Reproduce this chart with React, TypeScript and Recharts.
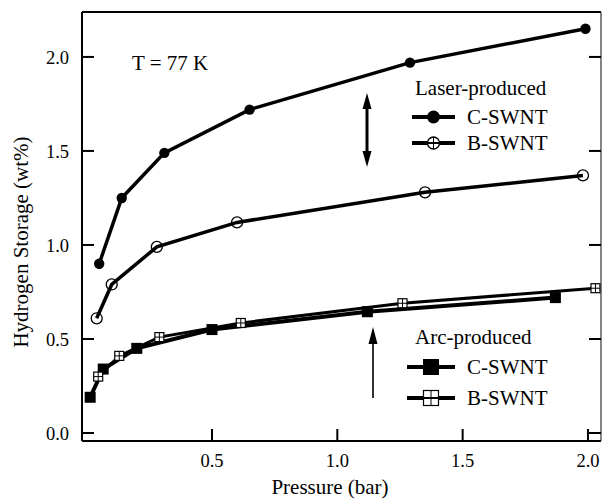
import React from 'react';
import { LineChart, Line, XAxis, YAxis } from 'recharts';

// pressure (bar) vs hydrogen storage (wt%)
const laserC = [
  { x: 0.05, y: 0.9 }, { x: 0.14, y: 1.25 }, { x: 0.31, y: 1.49 },
  { x: 0.65, y: 1.72 }, { x: 1.29, y: 1.97 }, { x: 1.99, y: 2.15 },
];
const laserB = [
  { x: 0.04, y: 0.61 }, { x: 0.1, y: 0.79 }, { x: 0.28, y: 0.99 },
  { x: 0.6, y: 1.12 }, { x: 1.35, y: 1.28 }, { x: 1.98, y: 1.37 },
];
const arcC = [
  { x: 0.014, y: 0.19 }, { x: 0.066, y: 0.34 }, { x: 0.2, y: 0.45 },
  { x: 0.5, y: 0.55 }, { x: 1.12, y: 0.645 }, { x: 1.87, y: 0.72 },
];
const arcB = [
  { x: 0.046, y: 0.3 }, { x: 0.13, y: 0.41 }, { x: 0.29, y: 0.51 },
  { x: 0.615, y: 0.585 }, { x: 1.26, y: 0.69 }, { x: 2.03, y: 0.77 },
];
const xTicks = [0.5, 1.0, 1.5, 2.0];
const yTicks = [0, 0.5, 1.0, 1.5, 2.0];
const xDomain = [-0.0186, 2.052];
const yDomain = [-0.0426, 2.239];

const FONT = '"Liberation Serif", "Times New Roman", serif';
const tickStyle = { fill: '#000', fontSize: 18.5, fontFamily: FONT };
const noLabel = () => <g />;

const filledCircle = (cx: number, cy: number, r: number, key?: any) => (
  <circle key={key} cx={cx} cy={cy} r={r} fill="#000" />
);
const openCircle = (cx: number, cy: number, r: number, key?: any) => (
  <g key={key}>
    <circle cx={cx} cy={cy} r={r} fill="none" stroke="#000" strokeWidth={1.3} />
  </g>
);
const filledSquare = (cx: number, cy: number, s: number, key?: any) => (
  <rect key={key} x={cx - s / 2} y={cy - s / 2} width={s} height={s} fill="#000" />
);
const openSquare = (cx: number, cy: number, s: number, key?: any) => (
  <g key={key}>
    <rect x={cx - s / 2} y={cy - s / 2} width={s} height={s} fill="#fff" stroke="#000" strokeWidth={1.2} />
    <line x1={cx} x2={cx} y1={cy - s / 2} y2={cy + s / 2} stroke="#000" strokeWidth={1} />
    <line x1={cx - s / 2} x2={cx + s / 2} y1={cy} y2={cy} stroke="#000" strokeWidth={1} />
  </g>
);

function LegendRow({ x1, x2, y, text, marker }: any) {
  const mx = (x1 + x2) / 2;
  return (
    <g>
      <line x1={x1} x2={x2} y1={y} y2={y} stroke="#000" strokeWidth={4} />
      {marker(mx, y)}
      <text x={467} y={y + 7} fontSize={21} fontFamily={FONT}>{text}</text>
    </g>
  );
}

function Overlay() {
  return (
    <svg width={605} height={499} style={{ position: 'absolute', left: 0, top: 0, pointerEvents: 'none' }}>
      <text x={28} y={242} transform="rotate(-90 28 242)" textAnchor="middle" fontSize={21} fontFamily={FONT}>
        Hydrogen Storage (wt%)
      </text>
      <text x={330} y={494} textAnchor="middle" fontSize={21} fontFamily={FONT}>Pressure (bar)</text>
      <text x={132} y={70} fontSize={21} fontFamily={FONT}>T = 77 K</text>

      <text x={415} y={95} fontSize={21} fontFamily={FONT}>Laser-produced</text>
      <LegendRow x1={412} x2={455} y={117} text="C-SWNT" marker={(x: number, y: number) => filledCircle(x, y, 6.5)} />
      <LegendRow x1={412} x2={455} y={143} text="B-SWNT" marker={(x: number, y: number) => (
        <g>
          <circle cx={x} cy={y} r={6} fill="#fff" stroke="#000" strokeWidth={1.3} />
          <line x1={x - 6} x2={x + 6} y1={y} y2={y} stroke="#000" strokeWidth={2} />
          <line x1={x} x2={x} y1={y - 6} y2={y + 6} stroke="#000" strokeWidth={1} />
        </g>
      )} />

      <text x={415} y={344} fontSize={21} fontFamily={FONT}>Arc-produced</text>
      <LegendRow x1={407} x2={455} y={367} text="C-SWNT" marker={(x: number, y: number) => filledSquare(x, y, 16)} />
      <LegendRow x1={407} x2={455} y={398} text="B-SWNT" marker={(x: number, y: number) => (
        <g>
          {openSquare(x, y, 15)}
          <line x1={x - 7.5} x2={x + 7.5} y1={y} y2={y} stroke="#000" strokeWidth={2} />
        </g>
      )} />

      {/* double arrow between laser-produced curves */}
      <line x1={367} x2={367} y1={104} y2={156} stroke="#000" strokeWidth={3} />
      <polygon points="367,93 362.5,109 371.5,109" fill="#000" />
      <polygon points="367,167 362.5,151 371.5,151" fill="#000" />
      {/* single arrow below arc-produced curves */}
      <line x1={373} x2={373} y1={338} y2={398} stroke="#000" strokeWidth={1.6} />
      <polygon points="373,327 368.5,344 377.5,344" fill="#000" />
    </svg>
  );
}

export default function App() {
  return (
    <div style={{ position: 'relative', width: 605, height: 499, background: '#fff' }}>
      <style>{'body{margin:0}'}</style>
      <LineChart width={605} height={499} margin={{ top: 0, right: 0, bottom: 0, left: 0 }}>
        <XAxis
          xAxisId={0} type="number" dataKey="x" domain={xDomain} allowDataOverflow ticks={xTicks}
          tickFormatter={(v: number) => v.toFixed(1)} tick={tickStyle} height={58}
          tickSize={-12} tickMargin={25}
          axisLine={{ stroke: '#000', strokeWidth: 2 }} tickLine={{ stroke: '#000', strokeWidth: 2 }}
        />
        <XAxis
          xAxisId="top" orientation="top" type="number" domain={xDomain} allowDataOverflow ticks={xTicks}
          tick={noLabel} height={12} tickSize={-12}
          axisLine={{ stroke: '#000', strokeWidth: 2 }} tickLine={{ stroke: '#000', strokeWidth: 2 }}
        />
        <YAxis
          yAxisId={0} type="number" domain={yDomain} allowDataOverflow ticks={yTicks}
          tickFormatter={(v: number) => v.toFixed(1)} tick={tickStyle} width={82}
          tickSize={-12} tickMargin={25}
          axisLine={{ stroke: '#000', strokeWidth: 2 }} tickLine={{ stroke: '#000', strokeWidth: 2 }}
        />
        <YAxis
          yAxisId="right" orientation="right" type="number" domain={yDomain} allowDataOverflow ticks={yTicks}
          tick={noLabel} width={4} tickSize={-12}
          axisLine={{ stroke: '#333', strokeWidth: 1.2 }} tickLine={{ stroke: '#000', strokeWidth: 2 }}
        />
        <Line data={laserC} dataKey="y" stroke="#000" strokeWidth={3.5} isAnimationActive={false}
          dot={(p: any) => filledCircle(p.cx, p.cy, 5.2, p.index)} />
        <Line data={laserB} dataKey="y" stroke="#000" strokeWidth={3.5} isAnimationActive={false}
          dot={(p: any) => openCircle(p.cx, p.cy, 5.5, p.index)} />
        <Line data={arcC} dataKey="y" stroke="#000" strokeWidth={4} isAnimationActive={false}
          dot={(p: any) => filledSquare(p.cx, p.cy, 11, p.index)} />
        <Line data={arcB} dataKey="y" stroke="#000" strokeWidth={3} isAnimationActive={false}
          dot={(p: any) => openSquare(p.cx, p.cy, 9, p.index)} />
      </LineChart>
      <Overlay />
    </div>
  );
}
